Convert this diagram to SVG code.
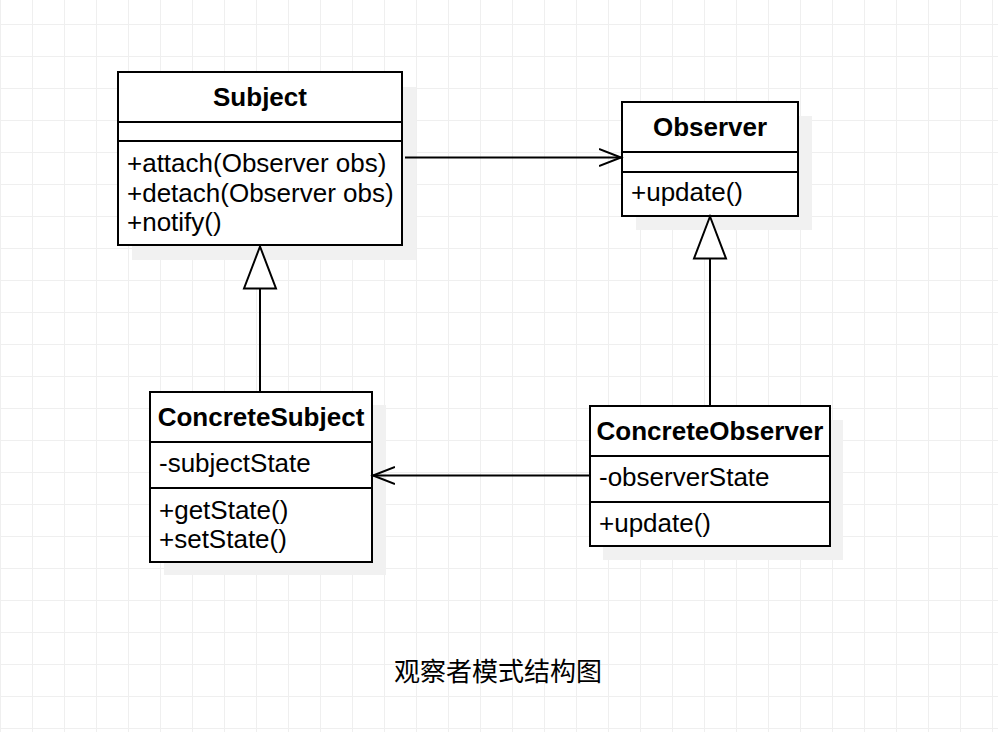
<svg xmlns="http://www.w3.org/2000/svg" width="998" height="732" viewBox="0 0 998 732">
<defs>
<pattern id="grid" x="0" y="-8" width="32" height="32" patternUnits="userSpaceOnUse">
<path d="M0.5 0V32M0 0.5H32" fill="none" stroke="#efefef" stroke-width="1"/>
</pattern>
<marker id="open" markerUnits="userSpaceOnUse" markerWidth="30" markerHeight="30" refX="22" refY="10" orient="auto" viewBox="0 0 30 20">
<path d="M0 1.5L22 10L0 18.5" fill="none" stroke="#000" stroke-width="2"/>
</marker>
</defs>
<style>
text{font-family:"Liberation Sans",Arial,sans-serif;font-size:26px;fill:#000}
.t{font-weight:bold;text-anchor:middle}
.box{fill:#fff;stroke:#000;stroke-width:2}
.sh{fill:#f1f1f1}
.ln{stroke:#000;stroke-width:2;fill:none}
.tri{fill:#fff;stroke:#000;stroke-width:2}
.cap{font-family:"Liberation Sans","Noto Sans CJK SC",sans-serif;text-anchor:middle}
</style>
<rect width="998" height="732" fill="#fff"/>
<rect width="998" height="732" fill="url(#grid)"/>

<g id="Subject">
<rect class="sh" x="132" y="87" width="284" height="173"/>
<rect class="box" x="118" y="72" width="284" height="173"/>
<path class="ln" d="M118 122H402M118 141H402"/>
<text class="t" x="260" y="106">Subject</text>
<text x="127" y="171.5">+attach(Observer obs)</text>
<text x="127" y="201.5">+detach(Observer obs)</text>
<text x="127" y="231">+notify()</text>
</g>

<g id="Observer">
<rect class="sh" x="636" y="116" width="176" height="114"/>
<rect class="box" x="622" y="102" width="176" height="114"/>
<path class="ln" d="M622 152H798M622 172H798"/>
<text class="t" x="710" y="136">Observer</text>
<text x="631" y="201">+update()</text>
</g>

<g id="ConcreteSubject">
<rect class="sh" x="164" y="405" width="222" height="170"/>
<rect class="box" x="150" y="392" width="222" height="170"/>
<path class="ln" d="M150 442H372M150 488H372"/>
<text class="t" x="261" y="426">ConcreteSubject</text>
<text x="159" y="472">-subjectState</text>
<text x="159" y="519">+getState()</text>
<text x="159" y="548">+setState()</text>
</g>

<g id="ConcreteObserver">
<rect class="sh" x="603" y="420" width="240" height="140"/>
<rect class="box" x="590" y="406" width="240" height="140"/>
<path class="ln" d="M590 456H830M590 502H830"/>
<text class="t" x="710" y="440">ConcreteObserver</text>
<text x="599" y="486">-observerState</text>
<text x="599" y="532">+update()</text>
</g>

<g id="connectors">
<path class="ln" d="M405 157.5H621" marker-end="url(#open)"/>
<path class="ln" d="M589 475.5H373" marker-end="url(#open)"/>
<path class="ln" d="M260 392V288"/>
<path class="tri" d="M260 246.5L244 288.5H276Z"/>
<path class="ln" d="M710 406V258"/>
<path class="tri" d="M710 216.5L694 258.5H726Z"/>
</g>

<text class="cap" x="498" y="681">观察者模式结构图</text>
</svg>
